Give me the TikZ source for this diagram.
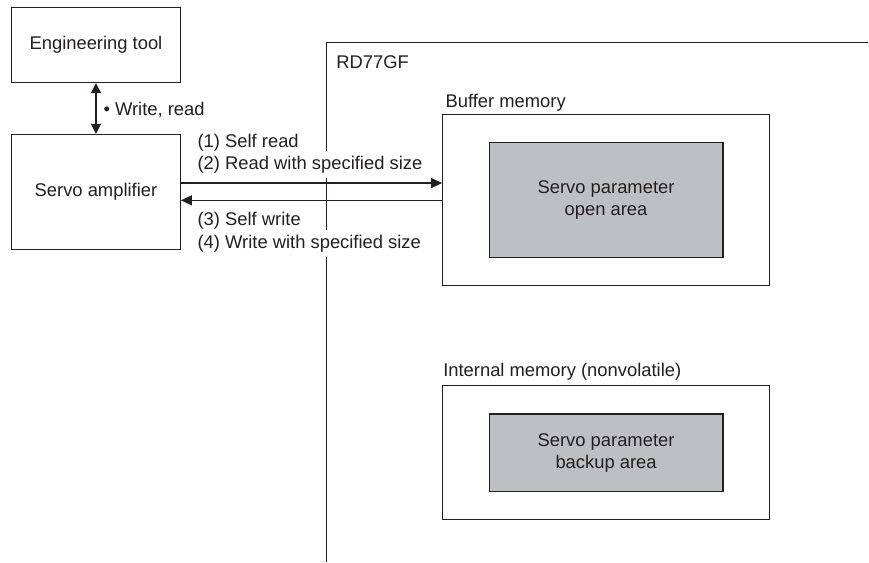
\documentclass[tikz,border=0pt]{standalone}
\usepackage{fontspec}
\setmainfont{Liberation Sans}
\usetikzlibrary{arrows.meta}
\definecolor{txt}{HTML}{231F20}
\definecolor{areafill}{HTML}{BEBFC2}
\begin{document}
\begin{tikzpicture}[x=1pt,y=-1pt,
  font=\fontsize{18.4}{22}\selectfont, text=txt,
  every path/.style={line width=1.2pt, draw=txt},
  box/.style={draw=txt, line width=1.2pt, fill=white, inner sep=0pt, align=center},
  areabox/.style={draw=txt, line width=1.4pt, fill=areafill, inner sep=0pt, align=center},
  lbl/.style={anchor=base west, inner sep=0pt},
  crosslbl/.style={lbl, fill=white, inner ysep=5pt},
  arr/.style={-{Triangle[length=11pt,width=10pt]}, line width=1.2pt, draw=txt},
  darr/.style={{Triangle[length=10pt,width=10pt]}-{Triangle[length=10pt,width=10pt]}, line width=1.2pt, draw=txt}]
\useasboundingbox (0,0) rectangle (869,562);
\fill[white] (0,0) rectangle (869,562);

% RD77GF frame
\coordinate (rdright) at (869,42.3);
\coordinate (rdcorner) at (326.7,42.3);
\coordinate (rdbottom) at (326.7,562);
\draw (rdright) -- (rdcorner) -- (rdbottom);
\node[lbl] (rdlbl) at (335.7,68.3) {RD77GF};

% boxes on the left
\node[box, minimum width=169pt, minimum height=75pt] (eng) at (95.5,44.5) {Engineering tool};
\node[box, minimum width=169pt, minimum height=115pt] (servo) at (95.5,191.5) {Servo amplifier};

% buffer memory
\node[lbl] (buflbl) at (445,106.7) {Buffer memory};
\node[box, minimum width=327.3pt, minimum height=171pt] (buf) at (606.35,199.5) {};
\node[areabox, minimum width=234pt, minimum height=115pt] (openarea) at (606.3,199.8) {Servo parameter\\open area};

% internal memory
\node[lbl] (intlbl) at (442.7,376) {Internal memory (nonvolatile)};
\node[box, minimum width=327.3pt, minimum height=134.3pt] (intmem) at (606.35,452.85) {};
\node[areabox, minimum width=234pt, minimum height=77.7pt] (backup) at (606.3,452.85) {Servo parameter\\backup area};

% labels of the transfer arrows
\node[crosslbl] (l2) at (196.7,169.3) {(2) Read with specified size};
\node[lbl] (l1) at (196.7,147.3) {(1) Self read};
\node[crosslbl] (l4) at (196.7,248.3) {(4) Write with specified size};
\node[lbl] (l3) at (196.7,225.7) {(3) Self write};

% connectors
\draw[darr] (eng.south) -- (servo.north);
\node[lbl] (wr) at (102.5,115) {\textbullet\ Write, read};
\draw[arr] ([yshift=8.8pt]servo.east) -- ([yshift=8.8pt]servo.east -| buf.west);
\draw[arr] ([yshift=-8.5pt]servo.east -| buf.west) -- ([yshift=-8.5pt]servo.east);
\end{tikzpicture}
\end{document}
